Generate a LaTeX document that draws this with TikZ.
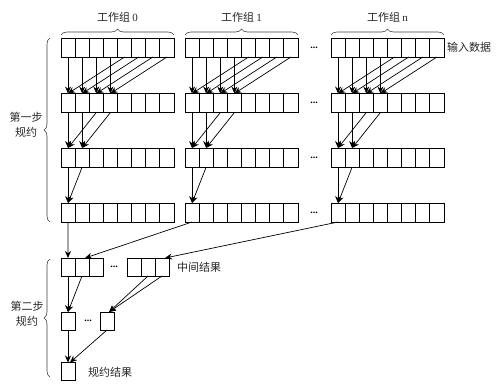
\documentclass[tikz,border=0pt]{standalone}
\usepackage{fontspec}
\setmainfont{Liberation Serif}
\newfontfamily\cjk{Noto Sans CJK SC}
\usetikzlibrary{arrows.meta,decorations.pathreplacing,calc}
\begin{document}
\begin{tikzpicture}[x=1pt,y=-1pt,
 cell/.style={draw,line width=0.9pt,minimum width=14.125pt,minimum height=19pt,inner sep=0pt,outer sep=0pt},
 sq/.style={draw,line width=0.9pt,minimum width=14pt,minimum height=18pt,inner sep=0pt,outer sep=0pt},
 arr/.style={-{Stealth[length=7pt,width=6pt]},line width=0.7pt},
 brc/.style={decorate,decoration={brace,amplitude=6pt},line width=0.6pt,draw=black!75},
 lbl/.style={font=\cjk\fontsize{11}{15}\selectfont,inner sep=0pt,text=black!85},
 dots/.style={font=\bfseries,inner sep=0pt}]
\useasboundingbox (0,0) rectangle (502,385);
% rows of cells
\foreach \g/\gx in {0/61,1/185,2/331}{
  \foreach \r/\ry in {1/47.5,2/103,3/157.5,4/212.5}{
    \foreach \c in {0,...,7}{
      \node[cell] (g\g r\r c\c) at ({\gx+7.0625+\c*14.125},\ry) {};
    }
  }
}
% arrows inside groups
\foreach \g in {0,1,2}{
  \foreach \c in {0,...,3}{
    \pgfmathtruncatemacro\d{\c+4}
    \draw[arr] (g\g r1c\c.south) -- (g\g r2c\c.north);
    \draw[arr] (g\g r1c\d.south) -- (g\g r2c\c.north);
  }
  \foreach \c in {0,1}{
    \pgfmathtruncatemacro\d{\c+2}
    \draw[arr] (g\g r2c\c.south) -- (g\g r3c\c.north);
    \draw[arr] (g\g r2c\d.south) -- (g\g r3c\c.north);
  }
  \draw[arr] (g\g r3c0.south) -- (g\g r4c0.north);
  \draw[arr] (g\g r3c1.south) -- (g\g r4c0.north);
}
% ellipses between group 1 and n
\foreach \r/\ry in {1/47.5,2/103,3/157.5,4/212.5}{
  \node[dots] (e\r) at (314,\ry) {...};
}
% group labels and braces
\node[lbl] (t0) at (117.5,17) {工作组 {\rmfamily 0}};
\node[lbl] (t1) at (241.5,17) {工作组 {\rmfamily 1}};
\node[lbl] (t2) at (387.5,17) {工作组 {\rmfamily n}};
\draw[brc] (61,35) -- (174,35);
\draw[brc] (185,35) -- (298,35);
\draw[brc] (331,35) -- (444,35);
\node[lbl,anchor=west] (inp) at (447,47) {输入数据};
% step 1 brace
\draw[brc] (50,222) -- (50,38);
\node[lbl,align=center] (st1) at (26,125) {第一步\\规约};
% intermediate results
\node[sq] (m0) at (68,267) {};
\node[sq] (m1) at (82,267) {};
\node[sq] (m2) at (96,267) {};
\node[dots] (md) at (114,267) {...};
\node[sq] (m3) at (134,267) {};
\node[sq] (m4) at (148,267) {};
\node[sq] (m5) at (162,267) {};
\node[lbl,anchor=west] (mid) at (177,267) {中间结果};
\draw[arr] (g0r4c0.south) -- (m0.north);
\draw[arr] (g1r4c0.south) -- ($(m1.north)+(3,0)$);
\draw[arr] (g2r4c0.south) -- ($(m5.north)+(3,0)$);
% step 2
\node[sq] (s0) at (68,321) {};
\node[dots] (sd) at (88,321) {...};
\node[sq] (s1) at (107,321) {};
\draw[arr] (m0.south) -- (s0.north);
\draw[arr] (m1.south) -- (s0.north);
\draw[arr] (m4.south) -- ($(s1.north)+(2,0)$);
\draw[arr] (m5.south) -- ($(s1.north)+(2,0)$);
\node[sq] (f) at (68,371.5) {};
\node[lbl,anchor=west] (res) at (88,372) {规约结果};
\draw[arr] (s0.south) -- (f.north);
\draw[arr] (s1.south) -- ($(f.north)+(2,0)$);
% step 2 brace
\draw[brc] (50,377) -- (50,259);
\node[lbl,align=center] (st2) at (27,314) {第二步\\规约};
\end{tikzpicture}
\end{document}
